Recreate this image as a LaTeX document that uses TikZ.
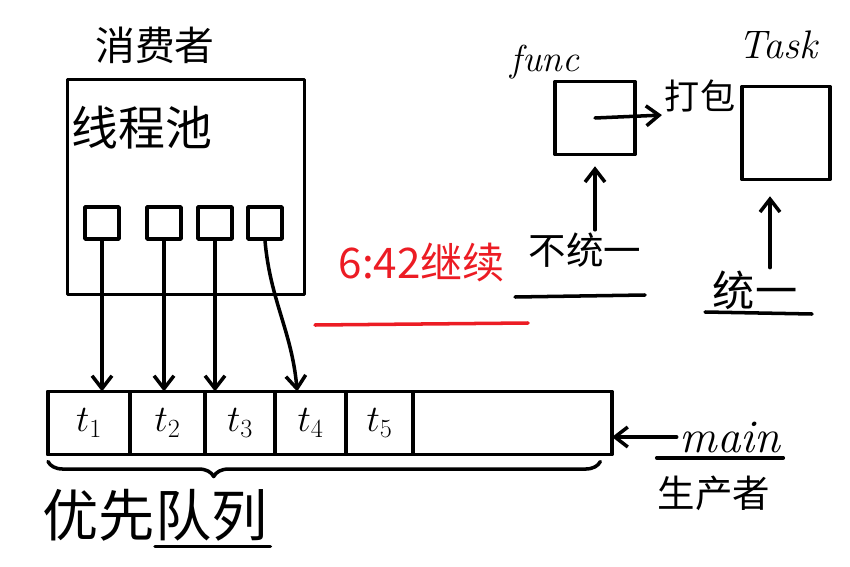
\documentclass[tikz,border=0pt]{standalone}
\usepackage{fix-cm}
\usepackage{fontspec}
\newfontfamily\cjk{Noto Sans CJK SC}
\usetikzlibrary{arrows.meta,decorations.pathreplacing}
\definecolor{inkred}{RGB}{236,28,36}
\newcommand\inkfont[1]{\cjk\fontsize{#1}{#1}\selectfont}

\begin{document}
\begin{tikzpicture}[x=0.03cm,y=-0.03cm,
    line width=3pt,line cap=round,line join=round,
    box/.style={draw,inner sep=0pt},
    cell/.style={draw,inner sep=0pt,outer sep=0pt,minimum height=1.89cm,anchor=west,font=\fontsize{32}{32}\selectfont},
    label/.style={font=\inkfont{34},inner sep=1pt},
    word/.style={font=\fontsize{32}{32}\selectfont\itshape,inner sep=1pt},
    arr/.style={-{Straight Barb[length=11pt,width=17pt]}}]

  \useasboundingbox (0,0) rectangle (850,566);

  % Consumer side
  \node[label] (consumer) at (155,45) {消费者};
  \node[box,minimum width=7.11cm,minimum height=6.45cm] (pool) at (186,187) {};
  \node[label,font=\inkfont{40}] (pooltext) at (142,128) {线程池};
  \node[box,minimum width=1.02cm,minimum height=0.96cm] (w1) at (102,223) {};
  \node[box,minimum width=1.02cm,minimum height=0.96cm] (w2) at (164,223) {};
  \node[box,minimum width=1.02cm,minimum height=0.96cm] (w3) at (215,223) {};
  \node[box,minimum width=1.02cm,minimum height=0.96cm] (w4) at (265,223) {};

  % Priority queue
  \node[box,outer sep=0pt,minimum width=16.92cm,minimum height=1.89cm] (queue) at (330,423) {};
  \node[cell,minimum width=2.46cm] (t1) at (queue.west) {$t_1$};
  \node[cell,minimum width=2.25cm] (t2) at (t1.east) {$t_2$};
  \node[cell,minimum width=2.10cm] (t3) at (t2.east) {$t_3$};
  \node[cell,minimum width=2.13cm] (t4) at (t3.east) {$t_4$};
  \node[cell,minimum width=2.01cm] (t5) at (t4.east) {$t_5$};

  \draw[arr] (w1.south) -- (w1.south |- queue.north);
  \draw[arr] (w2.south) -- (w2.south |- queue.north);
  \draw[arr] (w3.south) -- (w3.south |- queue.north);
  \draw[arr] (w4.south) to[out=-85,in=95] ([xshift=-0.4cm]t4.north);

  \draw[decorate,decoration={brace,mirror,amplitude=0.45cm,aspect=0.3}]
    ([yshift=-6pt]queue.south west) -- ([xshift=-0.35cm,yshift=-6pt]queue.south east);
  \node[label,font=\inkfont{48}] (pq) at (155,515) {优先队列};
  \draw ([yshift=-2pt]pq.south) -- ([yshift=-2pt]pq.south east);

  % Producer
  \node[word,font=\fontsize{40}{40}\selectfont\itshape] (main) at (730,437) {main};
  \draw[arr] (main.west) -- (main.west -| queue.east);
  \draw ([xshift=-0.6cm,yshift=-2pt]main.south west) -- ([yshift=-2pt]main.south east);
  \node[label,font=\inkfont{32}] (producer) at (714,493) {生产者};

  % Red note
  \node[label,text=inkred,font=\inkfont{36}] (resume) at (422,262) {6:42继续};
  \draw[inkred] (315,325) -- (528,323);

  % func -> Task
  \node[box,minimum width=2.4cm,minimum height=2.19cm] (func) at (595,118) {};
  \node[word] (funcname) at (545,62) {func};
  \node[label,font=\inkfont{30}] (pack) at (700,96) {打包};
  \draw[arr] (func.center) -- (pack.south west);
  \node[label,font=\inkfont{32}] (nonuni) at (585,250) {不统一};
  \draw (515,297) -- (645,295);
  \draw[arr] (func.south |- nonuni.north) -- ([yshift=-0.3cm]func.south);

  \node[box,minimum width=2.64cm,minimum height=2.79cm] (task) at (786,133) {};
  \node[word,font=\fontsize{34}{34}\selectfont\itshape] (taskname) at (778,45) {Task};
  \node[label,font=\inkfont{36}] (uni) at (755,290) {统一};
  \draw (705,312) -- (812,314);
  \draw[arr] ([xshift=-0.48cm]task.south |- uni.north) -- ([xshift=-0.48cm,yshift=-0.45cm]task.south);

\end{tikzpicture}
\end{document}
